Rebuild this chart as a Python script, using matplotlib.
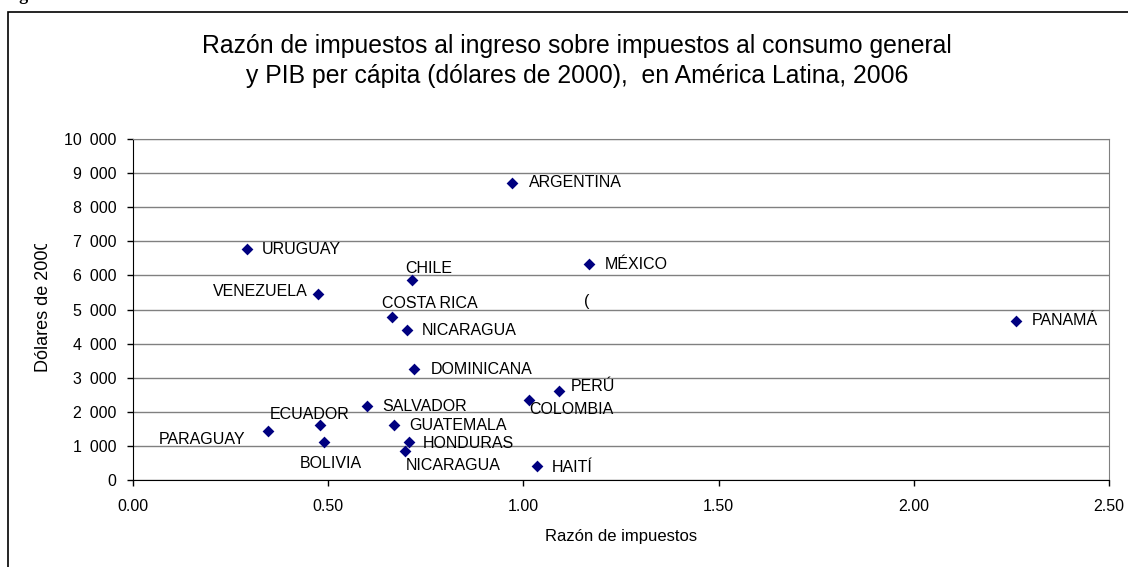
import matplotlib.pyplot as plt
from matplotlib.patches import Rectangle
from matplotlib.ticker import FuncFormatter, MultipleLocator
from matplotlib.transforms import Bbox, TransformedBbox

plt.rcParams['font.family'] = ['Liberation Sans', 'DejaVu Sans']

# datos
paises = ['URUGUAY', 'CHILE', 'VENEZUELA', 'COSTA RICA', 'NICARAGUA', 'DOMINICANA',
          'SALVADOR', 'ECUADOR', 'PARAGUAY', 'BOLIVIA', 'GUATEMALA', 'HONDURAS',
          'NICARAGUA', 'ARGENTINA', 'MÉXICO', 'PERÚ', 'COLOMBIA', 'HAITÍ', 'PANAMÁ']
razon = [0.291, 0.714, 0.473, 0.663, 0.701, 0.721,
         0.599, 0.479, 0.346, 0.489, 0.669, 0.707,
         0.697, 0.972, 1.167, 1.091, 1.014, 1.034, 2.263]
pib = [6765, 5865, 5455, 4790, 4400, 3245,
       2180, 1613, 1427, 1105, 1613, 1114,
       860, 8720, 6325, 2620, 2346, 410, 4670]

# posicion de cada etiqueta (pixeles respecto al punto) y alineacion
offsets = [(15, 0, 'left'), (-6, 12, 'left'), (-10, 2, 'right'), (-10, 13, 'left'),
           (15, -1, 'left'), (16, 0, 'left'), (15, -1, 'left'), (-50, 10, 'left'),
           (-23, -8, 'right'), (-24, -21, 'left'), (15, -1, 'left'), (14, -1, 'left'),
           (1, -15, 'left'), (16, 0, 'left'), (16, 0, 'left'), (12, 4, 'left'),
           (0, -9, 'left'), (15, -1, 'left'), (15, 0, 'left')]

fig = plt.figure(figsize=(11.28, 5.67), dpi=100)
ax = fig.add_axes([133 / 1128, 1 - 480 / 567, (1109 - 133) / 1128, (480 - 139) / 567])

# marco exterior del grafico
fig.patches.append(Rectangle((8 / 1128, -0.05), 1.2, 0.05 + (1 - 12 / 567),
                             transform=fig.transFigure, fill=False,
                             edgecolor='black', linewidth=1.2))

# resto del titulo de la pagina, cortado arriba
fig.text(4 / 1128, 1.0, 'Figura', fontsize=13, fontweight='bold',
         family='Liberation Serif', va='baseline')

ax.scatter(razon, pib, marker='D', s=36, color='#000080', zorder=3, linewidths=0)

for x, y, nombre, (dx, dy, ha) in zip(razon, pib, paises, offsets):
    ax.annotate(nombre, (x, y), xytext=(dx, dy), textcoords='offset pixels',
                ha=ha, va='center', fontsize=11.5, color='black')

ax.text(1.155, 5220, '(', fontsize=11.5, va='center', ha='left')

ax.set_xlim(0, 2.5)
ax.set_ylim(0, 10000)
ax.xaxis.set_major_locator(MultipleLocator(0.5))
ax.yaxis.set_major_locator(MultipleLocator(1000))
ax.xaxis.set_major_formatter(FuncFormatter(lambda v, p: f'{v:.2f}'))
ax.yaxis.set_major_formatter(FuncFormatter(lambda v, p: f'{v:,.0f}'.replace(',', '\u2002')))
ax.tick_params(direction='out', length=4, width=1, labelsize=11.5, colors='black')
ax.tick_params(axis='x', pad=10)
ax.tick_params(axis='y', pad=8)

ax.grid(axis='y', color='#808080', linewidth=1)
ax.set_axisbelow(True)
for s in ['top', 'right']:
    ax.spines[s].set_color('#808080')
for s in ['left', 'bottom']:
    ax.spines[s].set_color('black')

fig.text(577 / 1128, 1 - 61 / 567,
         'Razón de impuestos al ingreso sobre impuestos al consumo general\n'
         'y PIB per cápita (dólares de 2000),  en América Latina, 2006',
         ha='center', va='center', fontsize=17.8, linespacing=1.3)

fig.text(621 / 1128, 1 - 537 / 567, 'Razón de impuestos', ha='center', va='center',
         fontsize=12)

yl = fig.text(43 / 1128, 1 - 306 / 567, 'Dólares de 2000', rotation=90,
              ha='center', va='center', fontsize=13)
yl.set_clip_box(TransformedBbox(Bbox([[0, 0], [1, 1 - 244 / 567]]), fig.transFigure))
yl.set_clip_on(True)

fig.savefig('out.png', dpi=100)
